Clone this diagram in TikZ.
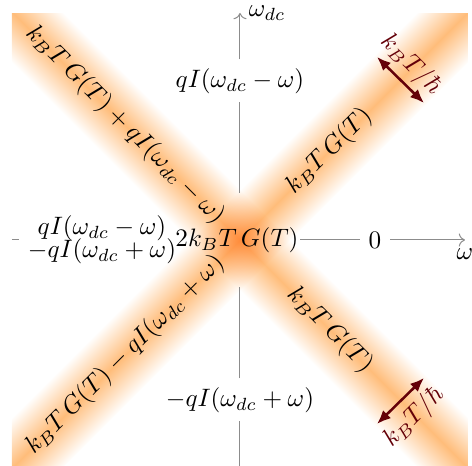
\documentclass[tikz,border=0pt]{standalone}
\usetikzlibrary{arrows.meta}
\definecolor{darkred}{RGB}{100,0,8}
\begin{document}
\begin{tikzpicture}[x=0.397pt,y=0.397pt,
  axis/.style={draw=black!45, line width=0.4pt},
  widthmark/.style={draw=darkred, line width=1pt, {Latex[length=5.5pt,width=4.5pt]}-{Latex[length=5.5pt,width=4.5pt]}},
  bandshade/.style={top color=white, bottom color=white, middle color=orange!52},
  dr/.style={text=darkred}]
\useasboundingbox (-240,-226) rectangle (232,240);
% bands
\begin{scope}
  \clip (-228,-226) rectangle (228,226);
  \begin{scope}[transform canvas={rotate=-45}]
    \shade[bandshade] (-420,-36) rectangle (420,36);
  \end{scope}
  \begin{scope}[blend mode=multiply]
  \begin{scope}[transform canvas={rotate=45}]
    \shade[bandshade] (-420,-36) rectangle (420,36);
  \end{scope}
  \end{scope}
\end{scope}
% axis end points
\coordinate (xl) at (-228,0);
\coordinate (xr) at (225,0);
\coordinate (yt) at (0,227);
\coordinate (yb) at (0,-232);
% nodes
\node (C) at (-3,0) [inner xsep=0.5pt, minimum height=37pt] {$2k_BT\,G(T)$};
\node (L) at (-138,0) [align=center] {$qI(\omega_{dc}-\omega)$\\[-3pt]$-qI(\omega_{dc}+\omega)$};
\node (Z) at (135,0) {$0$};
\node (Tp) at (0,159) {$qI(\omega_{dc}-\omega)$};
\node (Bt) at (0,-160) {$-qI(\omega_{dc}+\omega)$};
\node[below] (wl) at (xr) {$\omega$};
\node[right] (wdc) at (yt) {$\omega_{dc}$};
% axes
\draw[axis] (xl) -- (L);
\draw[axis] (C) -- (Z);
\draw[axis,->] (Z) -- (xr);
\draw[axis,->] (Tp.north) -- (yt);
\draw[axis] (Tp.south) -- (Tp.south |- C.north);
\draw[axis] (Bt.north) -- (Bt.north |- C.south);
\draw[axis] (Bt.south) -- (yb);
% band labels
\node[rotate=-45] (tl) at (-115,115) {$k_BT\,G(T)+qI(\omega_{dc}-\omega)$};
\node[rotate=45] (tr) at (89,89) {$k_BT\,G(T)$};
\node[rotate=45] (bl) at (-115,-115) {$k_BT\,G(T)-qI(\omega_{dc}+\omega)$};
\node[rotate=-45] (br) at (90,-90) {$k_BT\,G(T)$};
% width marks
\coordinate (a1) at (137,183);
\coordinate (a2) at (184,137);
\draw[widthmark] (a1) -- (a2);
\node[rotate=-45, dr] (h1) at (171,175) {$k_BT/\hbar$};
\coordinate (b1) at (184,-138);
\coordinate (b2) at (137,-184);
\draw[widthmark] (b1) -- (b2);
\node[rotate=45, dr] (h2) at (174,-177) {$k_BT/\hbar$};
\end{tikzpicture}
\end{document}
